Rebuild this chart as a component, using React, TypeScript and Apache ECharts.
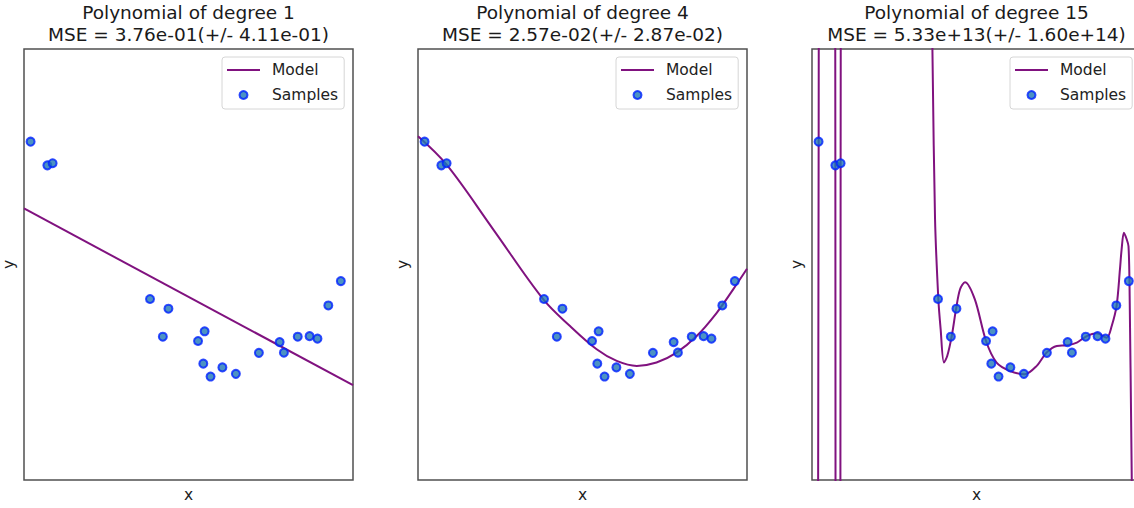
import React, { useEffect, useRef } from "react";
import * as echarts from "echarts";

// ---------- data ----------
const titles = [
  "Polynomial of degree 1\nMSE = 3.76e-01(+/- 4.11e-01)",
  "Polynomial of degree 4\nMSE = 2.57e-02(+/- 2.87e-02)",
  "Polynomial of degree 15\nMSE = 5.33e+13(+/- 1.60e+14)",
];

const sampleX = [0.020, 0.071, 0.087, 0.383, 0.422, 0.439, 0.529, 0.545, 0.549, 0.567, 0.603, 0.644, 0.714, 0.777, 0.790, 0.832, 0.868, 0.892, 0.925, 0.963];
const sampleY = [1.14, 0.92, 0.94, -0.32, -0.67, -0.41, -0.71, -0.92, -0.62, -1.04, -0.955, -1.015, -0.82, -0.72, -0.818, -0.67, -0.665, -0.688, -0.38, -0.154];

// degree 1 model
const model1X = [0, 1];
const model1Y = [0.52, -1.12];

// degree 4 model
const model4X = [0, 0.087, 0.229, 0.381, 0.462, 0.543, 0.604, 0.665, 0.725, 0.786, 0.847, 0.908, 0.958, 1.0];
const model4Y = [1.19, 0.926, 0.324, -0.324, -0.571, -0.787, -0.895, -0.941, -0.91, -0.818, -0.664, -0.448, -0.231, -0.04];

// degree 15 model: steep off-chart excursions
const model15SpikeX = [0.0, 0.0202, 0.035, 0.06, 0.071, 0.078, 0.08, 0.087, 0.1, 0.35, 0.366, null, 0.972, 0.99];
const model15SpikeY = [-40, 1.14, 40, 40, 0.92, -40, -40, 0.94, 40, 40, 2.0, null, -2.0, -40];

// degree 15 model: visible wiggly part
const model15X = [0.366, 0.374, 0.384, 0.391, 0.401, 0.411, 0.425, 0.438, 0.45, 0.465, 0.495, 0.529, 0.561, 0.602, 0.647, 0.683, 0.713, 0.744, 0.774, 0.805, 0.835, 0.865, 0.896, 0.911, 0.926, 0.936, 0.941, 0.948, 0.957, 0.962, 0.965, 0.972];
const model15Y = [2.0, 0.42, -0.32, -0.6, -0.91, -0.85, -0.66, -0.41, -0.23, -0.164, -0.324, -0.71, -0.91, -0.988, -1.019, -0.941, -0.818, -0.756, -0.75, -0.725, -0.664, -0.639, -0.679, -0.571, -0.38, -0.046, 0.139, 0.294, 0.23, 0.169, -0.17, -2.0];

// ---------- layout ----------
const W = 1134;
const H = 508;
const CHART_W = 1160; // wider canvas so the clipped third panel keeps its full size
const gridLefts = [24, 418, 812];
const gridTop = 49;
const gridW = 329;
const gridH = 432;

const pairs = (xs: (number | null)[], ys: (number | null)[]) =>
  xs.map((x, i) => (x === null || ys[i] === null ? [null, null] : [x, ys[i]]));

const MODEL_COLOR = "#80127f";
const FONT = "DejaVu Sans";

export default function App() {
  const ref = useRef<HTMLDivElement>(null);
  useEffect(() => {
    if (!ref.current) return;
    const chart = echarts.init(ref.current, undefined, { renderer: "svg", width: CHART_W, height: H });

    const grids = gridLefts.map((l) => ({
      left: l,
      top: gridTop,
      width: gridW,
      height: gridH,
      show: true,
      borderColor: "#505050",
      borderWidth: 1.5,
      backgroundColor: "transparent",
      containLabel: false,
    }));

    const xAxes = gridLefts.map((_, i) => ({
      type: "value",
      gridIndex: i,
      min: 0,
      max: 1,
      name: "x",
      nameLocation: "middle",
      nameGap: 7,
      nameTextStyle: { fontFamily: FONT, fontSize: 15.5, color: "#222" },
      axisLine: { show: false },
      axisTick: { show: false },
      axisLabel: { show: false },
      splitLine: { show: false },
    }));

    const yAxes = gridLefts.map((_, i) => ({
      type: "value",
      gridIndex: i,
      min: -2,
      max: 2,
      name: "y",
      nameLocation: "middle",
      nameRotate: 90,
      nameGap: 7,
      nameTextStyle: { fontFamily: FONT, fontSize: 15.5, color: "#222" },
      axisLine: { show: false },
      axisTick: { show: false },
      axisLabel: { show: false },
      splitLine: { show: false },
    }));

    const lineStyle = { color: MODEL_COLOR, width: 2 };
    const scatterStyle = { color: "#1f77b4", borderColor: "#0022ff", borderWidth: 2 };
    const samples = pairs(sampleX, sampleY);

    const series: any[] = [
      { type: "line", name: "Model", xAxisIndex: 0, yAxisIndex: 0, data: pairs(model1X, model1Y), symbol: "none", lineStyle, itemStyle: { color: MODEL_COLOR }, z: 2 },
      { type: "line", name: "Model", xAxisIndex: 1, yAxisIndex: 1, data: pairs(model4X, model4Y), symbol: "none", smooth: 0.35, lineStyle, itemStyle: { color: MODEL_COLOR }, z: 2 },
      { type: "line", name: "Model", xAxisIndex: 2, yAxisIndex: 2, data: pairs(model15SpikeX, model15SpikeY), symbol: "none", connectNulls: false, lineStyle, itemStyle: { color: MODEL_COLOR }, z: 2 },
      { type: "line", name: "Model", xAxisIndex: 2, yAxisIndex: 2, data: pairs(model15X, model15Y), symbol: "none", smooth: 0.3, lineStyle, itemStyle: { color: MODEL_COLOR }, z: 2 },
    ];
    [0, 1, 2].forEach((i) => {
      series.push({
        type: "scatter",
        name: "Samples",
        xAxisIndex: i,
        yAxisIndex: i,
        data: samples,
        symbol: "circle",
        symbolSize: 8,
        itemStyle: scatterStyle,
        z: 3,
      });
    });

    const legends = gridLefts.map((l) => ({
      data: [
        { name: "Model", itemStyle: { color: "transparent", borderWidth: 0, opacity: 0 }, lineStyle: { color: MODEL_COLOR, width: 2 } },
        { name: "Samples" },
      ],
      orient: "vertical",
      left: l + gridW - 9 - 122,
      top: 57,
      itemWidth: 33,
      itemHeight: 8,
      itemGap: 7,
      padding: [4, 6, 5, 4],
      backgroundColor: "rgba(255,255,255,0.85)",
      borderColor: "#d6d6d6",
      borderWidth: 1,
      borderRadius: 3,
      selectedMode: false,
      textStyle: { fontFamily: FONT, fontSize: 15.5, color: "#222", lineHeight: 18, padding: [0, 0, 0, 7] },
      z: 10,
    }));

    const option: any = {
      animation: false,
      backgroundColor: "#ffffff",
      title: titles.map((t, i) => ({
        text: t,
        left: gridLefts[i] + gridW / 2,
        top: 1,
        textAlign: "center",
        padding: 0,
        textStyle: { fontFamily: FONT, fontSize: 18.5, fontWeight: "normal", color: "#1a1a1a", lineHeight: 22.5 },
      })),
      grid: grids,
      xAxis: xAxes,
      yAxis: yAxes,
      legend: legends,
      series,
    };
    chart.setOption(option);
    return () => chart.dispose();
  }, []);

  return (
    <div style={{ position: "fixed", left: 0, top: 0, width: W, height: H, background: "#fff", overflow: "hidden" }}>
      <div ref={ref} style={{ width: CHART_W, height: H }} />
    </div>
  );
}
